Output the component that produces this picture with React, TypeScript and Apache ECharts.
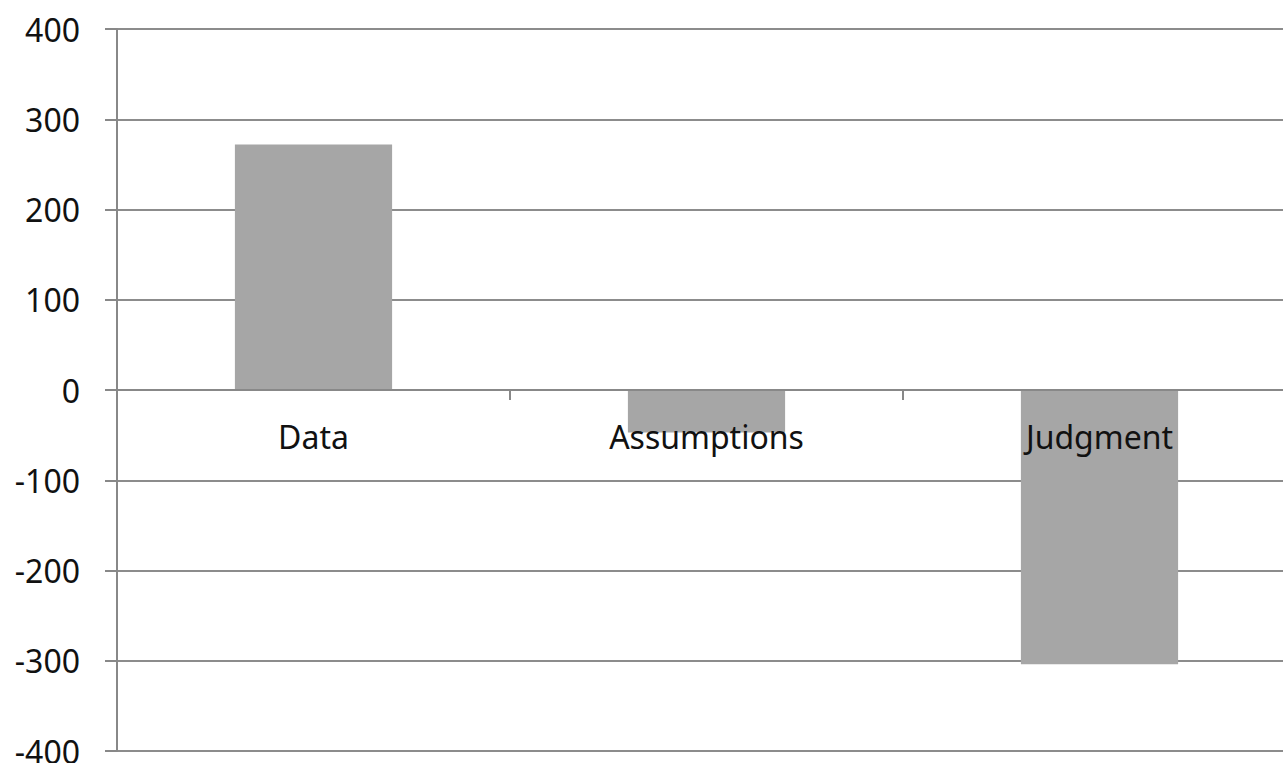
import React, { useEffect, useRef } from "react";
import * as echarts from "echarts";

const categories = ["Data", "Assumptions", "Judgment"];
const values = [272, -47, -304];
const yMin = -400;
const yMax = 400;
const yInterval = 100;

export default function App() {
  const ref = useRef<HTMLDivElement>(null);
  useEffect(() => {
    document.body.style.margin = "0";
    if (!ref.current) return;
    const chart = echarts.init(ref.current, null, { renderer: "svg" });
    const top = 29;
    const bottom = 12;
    const gridHeight = 763 - top - bottom;
    const zeroOffset = -(gridHeight * (0 - yMin)) / (yMax - yMin);
    chart.setOption({
      animation: false,
      backgroundColor: "#ffffff",
      grid: {
        left: 117,
        top,
        width: 1179,
        bottom,
        containLabel: false,
        outerBoundsMode: "none",
      },
      xAxis: {
        type: "category",
        data: categories,
        position: "bottom",
        offset: zeroOffset,
        axisLine: { show: true, onZero: false, lineStyle: { color: "#888888", width: 2 } },
        axisTick: { show: true, length: 10, inside: false, lineStyle: { color: "#888888", width: 2 } },
        axisLabel: {
          color: "#111111",
          fontFamily: "Noto Sans",
          fontSize: 32,
          margin: 30,
        },
        splitLine: { show: false },
        z: 3,
      },
      yAxis: {
        type: "value",
        min: yMin,
        max: yMax,
        interval: yInterval,
        axisLine: { show: true, lineStyle: { color: "#888888", width: 2 } },
        axisTick: { show: true, length: 12, lineStyle: { color: "#888888", width: 2 } },
        axisLabel: {
          color: "#111111",
          fontFamily: "Noto Sans",
          fontSize: 32,
          margin: 37,
        },
        splitLine: { show: true, lineStyle: { color: "#8c8c8c", width: 2 } },
      },
      series: [
        {
          type: "bar",
          data: values,
          barWidth: "40%",
          itemStyle: { color: "#a6a6a6" },
          z: 2,
        },
      ],
    });
    return () => chart.dispose();
  }, []);
  return <div ref={ref} style={{ width: 1283, height: 763 }} />;
}
